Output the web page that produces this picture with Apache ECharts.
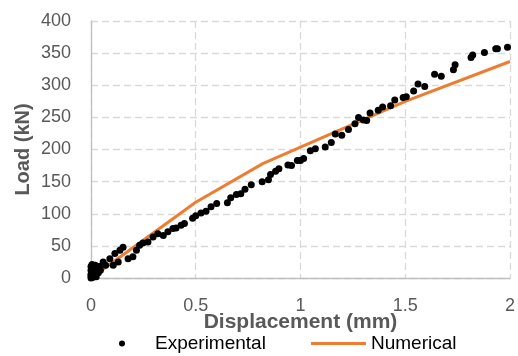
<!DOCTYPE html>
<html>
<head>
<meta charset="utf-8">
<script src="https://cdn.jsdelivr.net/npm/echarts@6/dist/echarts.min.js"></script>
<style>html,body{margin:0;padding:0;background:#fff;}#c{width:518px;height:356px;}</style>
</head>
<body>
<div id="c"></div>
<script>
var xTicks = [0, 0.5, 1, 1.5, 2];
var yTicks = [0, 50, 100, 150, 200, 250, 300, 350, 400];
var seriesNames = ['Experimental', 'Numerical'];

var experimental = [
  [0,0],[0,3],[0,6],[0.005,9],[0,12],[0.01,15],[0,18],[0.005,21],[0.015,5],[0.02,10],
  [0.025,2],[0.03,14],[0.035,8],[0.04,18],[0.02,20],[0.045,12],[0.01,1],
  [0.058,25],[0.07,20],[0.09,30],[0.106,20],[0.114,38],[0.13,25],[0.138,43],[0.153,48],
  [0.177,30],[0.2,33],[0.217,43],[0.232,51],[0.248,54.5],[0.272,56],[0.296,64],[0.319,69],
  [0.345,66],[0.367,72],[0.391,77],[0.406,78],[0.43,82],[0.446,85],[0.485,93],[0.5,97],
  [0.525,101],[0.549,104],[0.573,111],[0.6,116],[0.651,117],[0.667,125],[0.694,130],[0.715,131],
  [0.735,138],[0.765,145],[0.817,150],[0.847,153],[0.857,161],[0.881,166],[0.897,170],[0.94,176],
  [0.957,175],[0.985,183],[1.0,183],[1.015,186],[1.047,198],[1.071,201],[1.118,204],[1.147,211],
  [1.166,224],[1.197,222],[1.229,231],[1.26,240],[1.277,250],[1.3,246],[1.316,245],[1.332,257],
  [1.371,261],[1.392,266],[1.43,268],[1.45,277],[1.49,281],[1.505,282],[1.54,291],[1.561,302],
  [1.593,298],[1.64,317],[1.672,314],[1.73,324],[1.738,332],[1.814,343],[1.822,347],[1.878,351],
  [1.932,357],[1.94,357],[1.988,359]
];
var numerical = [[0,0],[0.5,118],[0.82,178],[1.5,275],[2,337]];

var chart = echarts.init(document.getElementById('c'), null, {renderer: 'canvas'});
var grayText = '#595959';
var fam = 'Liberation Sans, Arial, sans-serif';
var gridStyle = {color: '#d9d9d9', width: 1.3, type: [7, 4]};
chart.setOption({
  animation: false,
  backgroundColor: '#ffffff',
  textStyle: {fontFamily: fam},
  grid: {left: 91, right: 5, top: 21, bottom: 78, containLabel: false},
  legend: [
    {
      data: [{name: seriesNames[0], icon: 'circle'}],
      left: 119, top: 334, padding: 0,
      itemWidth: 6, itemHeight: 6, itemGap: 0,
      textStyle: {color: '#000000', fontSize: 19, fontFamily: fam, padding: [0, 0, 0, 25]}
    },
    {
      data: [{name: seriesNames[1], icon: 'rect'}],
      left: 311, top: 334, padding: 0,
      itemWidth: 55, itemHeight: 3, itemGap: 0,
      textStyle: {color: '#000000', fontSize: 19, fontFamily: fam}
    }
  ],
  xAxis: {
    type: 'value', min: xTicks[0], max: xTicks[xTicks.length-1], interval: 0.5,
    name: 'Displacement (mm)', nameLocation: 'middle', nameGap: 34, nameMoveOverlap: false,
    nameTextStyle: {color: grayText, fontSize: 21, fontWeight: 'bold'},
    axisLine: {show: true, lineStyle: {color: '#bfbfbf', width: 1.3}},
    axisTick: {show: false},
    axisLabel: {color: grayText, fontSize: 18, margin: 19},
    splitLine: {show: true, lineStyle: gridStyle}
  },
  yAxis: {
    type: 'value', min: yTicks[0], max: yTicks[yTicks.length-1], interval: 50,
    name: 'Load (kN)', nameLocation: 'middle', nameGap: 58, nameRotate: 90, nameMoveOverlap: false,
    nameTextStyle: {color: grayText, fontSize: 20, fontWeight: 'bold'},
    axisLine: {show: true, lineStyle: {color: '#bfbfbf', width: 1.3}},
    axisTick: {show: false},
    axisLabel: {color: grayText, fontSize: 18, margin: 20},
    splitLine: {show: true, lineStyle: gridStyle}
  },
  series: [
    {
      name: seriesNames[1], type: 'line', data: numerical, symbol: 'none',
      lineStyle: {color: '#ED7D31', width: 3}, itemStyle: {color: '#ED7D31'}, z: 2
    },
    {
      name: seriesNames[0], type: 'scatter', data: experimental, symbol: 'circle', symbolSize: 7,
      itemStyle: {color: '#000000', opacity: 1}, z: 3
    }
  ]
});
</script>
</body>
</html>
